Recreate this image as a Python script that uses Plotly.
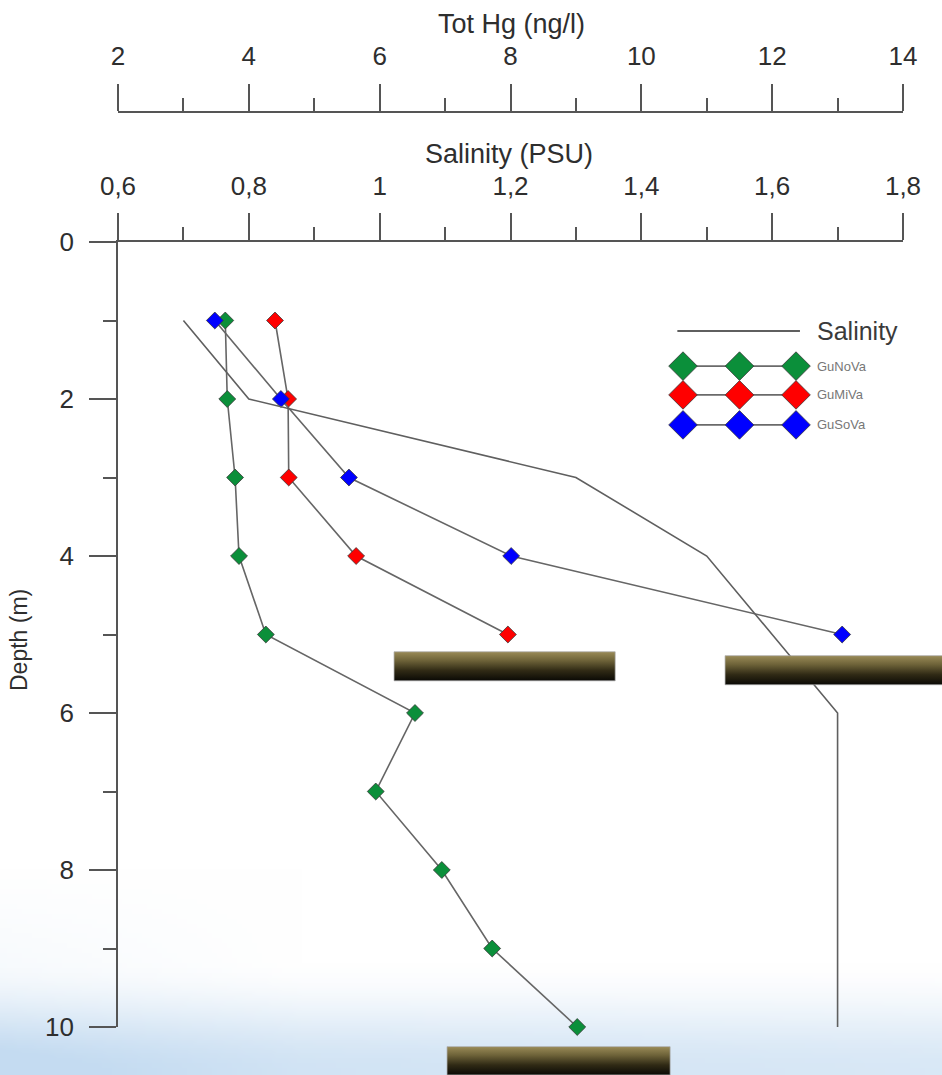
import base64
import struct
import zlib

import numpy as np
import plotly.graph_objects as go

# ---------------- data ----------------
salinity_depth = [1, 2, 3, 4, 5, 6, 10]
salinity_psu = [0.70, 0.80, 1.30, 1.50, 1.60, 1.70, 1.70]

gunova_depth = [1, 2, 3, 4, 5, 6, 7, 8, 9, 10]
gunova_hg = [3.64, 3.67, 3.79, 3.85, 4.26, 6.54, 5.94, 6.95, 7.72, 9.02]

gumiva_depth = [1, 2, 3, 4, 5]
gumiva_hg = [4.40, 4.60, 4.61, 5.64, 7.96]

gusova_depth = [1, 2, 3, 4, 5]
gusova_hg = [3.48, 4.49, 5.53, 8.01, 13.07]

# sediment (bottom) bars: Hg extent and depth extent
sed_hg_left = [6.22, 11.28, 7.03]
sed_hg_right = [9.60, 14.80, 10.44]
sed_depth_top = [5.22, 5.27, 10.25]
sed_depth_bottom = [5.59, 5.64, 10.61]

hg_tickvals = [2, 4, 6, 8, 10, 12, 14]
sal_tickvals = [0.6, 0.8, 1.0, 1.2, 1.4, 1.6, 1.8]
sal_ticktext = ["0,6", "0,8", "1", "1,2", "1,4", "1,6", "1,8"]
depth_tickvals = [0, 2, 4, 6, 8, 10]

legend_names = ["GuNoVa", "GuMiVa", "GuSoVa"]

# ---------------- geometry ----------------
W, H = 942, 1075
ML, MT = 118, 112
PW, PH = W - ML, H - MT
X_END = 903          # pixel of Hg=14
Y0_PX, Y10_PX = 242, 1027
hg_px = (X_END - ML) / 12.0
depth_px = (Y10_PX - Y0_PX) / 10.0

def py(p):  # figure pixel y -> paper y
    return (H - p) / PH

def px(p):  # figure pixel x -> paper x
    return (p - ML) / PW

x_dom = [0, px(X_END)]
y_dom = [py(Y10_PX), py(Y0_PX)]

GREEN, RED, BLUE = "#0b8f3a", "#ff0000", "#0000ff"
AX = "#555555"
TXT = "#2e2e2e"
FONT = "Liberation Sans, Arial, sans-serif"


# ---------------- background haze image ----------------
def png_uri(arr):
    h, w, _ = arr.shape
    raw = b"".join(b"\x00" + arr[i].tobytes() for i in range(h))

    def chunk(tag, data):
        c = struct.pack(">I", len(data)) + tag + data
        return c + struct.pack(">I", zlib.crc32(tag + data) & 0xFFFFFFFF)

    png = b"\x89PNG\r\n\x1a\n" + chunk(b"IHDR", struct.pack(">IIBBBBB", w, h, 8, 2, 0, 0, 0))
    png += chunk(b"IDAT", zlib.compress(raw, 9)) + chunk(b"IEND", b"")
    return "data:image/png;base64," + base64.b64encode(png).decode()

S = 5
gw, gh = W // S + 1, H // S + 1
xx, yy = np.meshgrid(np.arange(gw) * S, np.arange(gh) * S)
t = np.clip((yy - 965) / 110.0, 0, 1)
t = t * t * (3 - 2 * t)
a = t * (0.52 + 0.15 * (1 - xx / W))
a += np.clip((yy - 870) / 205.0, 0, 1) * np.clip(1 - xx / 300.0, 0, 1) * 0.22
a = np.clip(a, 0, 0.8)[..., None]
base = np.array([182, 211, 238], dtype=float)
img = (255 * (1 - a) + base * a).astype(np.uint8)

fig = go.Figure()

# ---------------- sediment bars ----------------
for l, r, tp, bt in zip(sed_hg_left, sed_hg_right, sed_depth_top, sed_depth_bottom):
    fig.add_trace(go.Scatter(
        x=[l, r, r, l, l], y=[tp, tp, bt, bt, tp],
        xaxis="x3", yaxis="y3", mode="lines", fill="toself",
        fillgradient=dict(type="vertical",
                          colorscale=[[0, "#0a0905"], [0.35, "#302a15"],
                                      [0.7, "#6e6339"], [1, "#9a8b57"]]),
        line=dict(color="rgba(170,170,170,0.7)", width=1),
        hoverinfo="skip", showlegend=False))

# ---------------- salinity ----------------
fig.add_trace(go.Scatter(
    x=salinity_psu, y=salinity_depth, xaxis="x2", yaxis="y",
    mode="lines", line=dict(color="#5f5f5f", width=1.6),
    name="Salinity", showlegend=False))

# ---------------- Hg series ----------------
for name, xs, ys, col in [("GuNoVa", gunova_hg, gunova_depth, GREEN),
                          ("GuMiVa", gumiva_hg, gumiva_depth, RED),
                          ("GuSoVa", gusova_hg, gusova_depth, BLUE)]:
    fig.add_trace(go.Scatter(
        x=xs, y=ys, xaxis="x", yaxis="y", mode="lines+markers", name=name,
        line=dict(color="#666666", width=1.6),
        marker=dict(symbol="diamond", size=13, color=col,
                    line=dict(color="#3a3a3a", width=0.8)),
        cliponaxis=False, showlegend=False))

# ---------------- custom legend (own small axes) ----------------
leg_x = [0, 1, 2]
leg_rows = [0.0, 1.17, 2.13, 3.13]
leg_px_unit_x = 56.5
leg_px_unit_y = 30.0
lx0, ly0 = 683, 331     # pixel of legend coordinate (0, 0)
lg_xr = [-0.25, 4.5]
lg_yr = [3.65, -0.5]
fig.add_trace(go.Scatter(
    x=[-0.1, 2.07], y=[leg_rows[0]] * 2, xaxis="x4", yaxis="y4",
    mode="lines", line=dict(color="#5f5f5f", width=1.8),
    hoverinfo="skip", showlegend=False))
for row, col in zip(leg_rows[1:], [GREEN, RED, BLUE]):
    fig.add_trace(go.Scatter(
        x=leg_x, y=[row] * 3, xaxis="x4", yaxis="y4", mode="lines+markers",
        line=dict(color="#6a6a6a", width=1.8),
        marker=dict(symbol="diamond", size=22, color=col,
                    line=dict(color="#3a3a3a", width=0.8)),
        cliponaxis=False, hoverinfo="skip", showlegend=False))

annotations = [
    dict(text="Salinity", x=2.33, y=leg_rows[0], xref="x4", yref="y4",
         xanchor="left", yanchor="middle", showarrow=False,
         font=dict(size=25, color="#3a3a3a", family=FONT)),
]
for row, nm in zip(leg_rows[1:], legend_names):
    annotations.append(dict(text=nm, x=2.33, y=row, xref="x4", yref="y4",
                            xanchor="left", yanchor="middle", showarrow=False,
                            font=dict(size=13, color="#777777", family=FONT)))

# axis titles
annotations += [
    dict(text="Tot Hg (ng/l)", x=px(511), y=py(24), xref="paper", yref="paper",
         xanchor="center", yanchor="middle", showarrow=False,
         font=dict(size=27, color=TXT, family=FONT)),
    dict(text="Salinity (PSU)", x=px(509), y=py(154), xref="paper", yref="paper",
         xanchor="center", yanchor="middle", showarrow=False,
         font=dict(size=27, color=TXT, family=FONT)),
    dict(text="Depth (m)", x=px(19), y=py(640), xref="paper", yref="paper",
         xanchor="center", yanchor="middle", textangle=-90, showarrow=False,
         font=dict(size=23, color=TXT, family=FONT)),
]

axis_common = dict(
    showgrid=False, zeroline=False, showline=True, linecolor=AX, linewidth=1.6,
    ticks="outside", tickcolor=AX, tickwidth=1.6, ticklen=27,
    tickfont=dict(size=26, color=TXT, family=FONT), automargin=False,
)

# legend axes domains (pixel -> paper)
l4x = [px(lx0 + lg_xr[0] * leg_px_unit_x), px(lx0 + lg_xr[1] * leg_px_unit_x)]
l4y = [py(ly0 + lg_yr[0] * leg_px_unit_y), py(ly0 + lg_yr[1] * leg_px_unit_y)]

hidden = dict(visible=False, fixedrange=True, automargin=False)

fig.update_layout(
    width=W, height=H, autosize=False,
    margin=dict(l=ML, r=0, t=MT, b=0, pad=0, autoexpand=False),
    paper_bgcolor="white", plot_bgcolor="rgba(0,0,0,0)",
    showlegend=False,
    font=dict(family=FONT, color=TXT),
    xaxis=dict(axis_common, domain=x_dom, range=[2, 14], side="top",
               anchor="free", position=1, tickvals=hg_tickvals, ticklabelstandoff=9,
               minor=dict(dtick=1, tick0=2, ticklen=13, tickwidth=1.6,
                          tickcolor=AX, ticks="outside")),
    xaxis2=dict(axis_common, overlaying="x", range=[0.6, 1.8], side="top",
                anchor="y", tickvals=sal_tickvals, ticktext=sal_ticktext,
                ticklabelstandoff=8,
                minor=dict(dtick=0.1, tick0=0.6, ticklen=13, tickwidth=1.6,
                           tickcolor=AX, ticks="outside")),
    yaxis=dict(axis_common, domain=y_dom, range=[10, 0], anchor="x",
               tickvals=depth_tickvals, ticklabelstandoff=10,
               minor=dict(dtick=1, tick0=0, ticklen=13, tickwidth=1.6,
                          tickcolor=AX, ticks="outside")),
    xaxis3=dict(hidden, domain=[0, 1], range=[2, 2 + PW / hg_px], anchor="y3"),
    yaxis3=dict(hidden, domain=[0, py(Y0_PX)], range=[(H - Y0_PX) / depth_px, 0],
                anchor="x3"),
    xaxis4=dict(hidden, domain=l4x, range=lg_xr, anchor="y4"),
    yaxis4=dict(hidden, domain=l4y, range=lg_yr, anchor="x4"),
    annotations=annotations,
    images=[dict(source=png_uri(img), xref="paper", yref="paper",
                 x=px(0), y=py(0), sizex=W / PW, sizey=H / PH,
                 sizing="stretch", xanchor="left", yanchor="top",
                 layer="below")],
)

fig.write_html("out.html", config={"responsive": False},
               post_script="document.body.style.margin='0';")
